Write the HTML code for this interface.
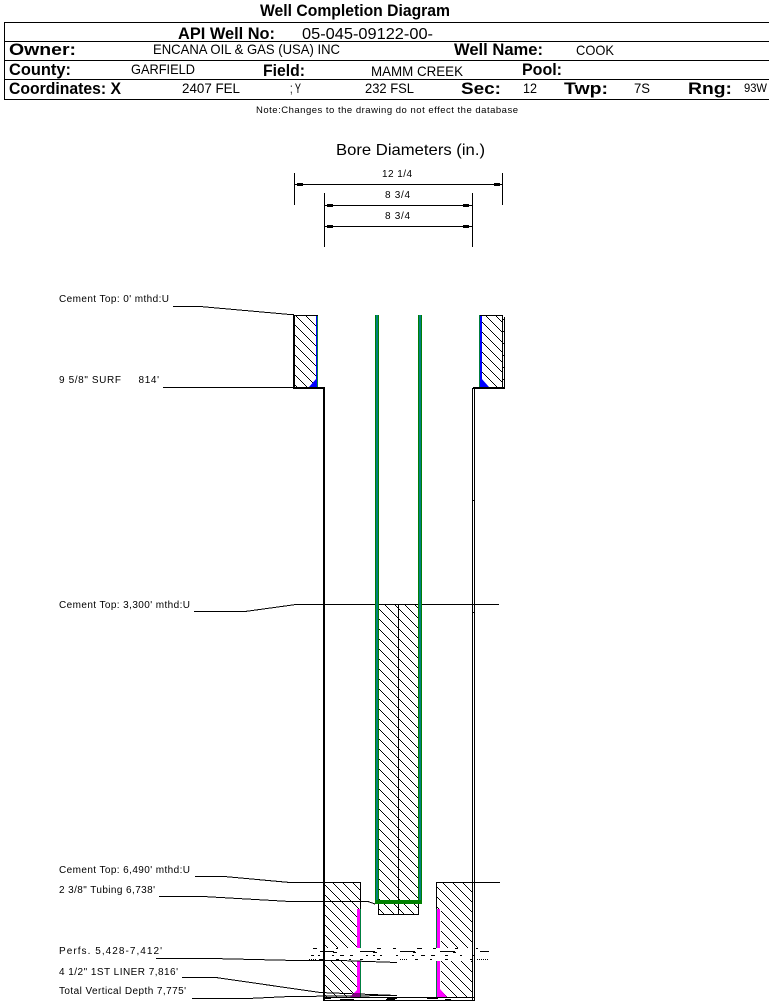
<!DOCTYPE html>
<html>
<head>
<meta charset="utf-8">
<style>
html,body{margin:0;padding:0;background:#fff}
svg{display:block}
text{font-family:"Liberation Sans",sans-serif;fill:#000}
.b{font-weight:bold}
</style>
</head>
<body>
<svg width="769" height="1001" viewBox="0 0 769 1001" xmlns="http://www.w3.org/2000/svg">
<defs>
<pattern id="h" width="10" height="10" patternUnits="userSpaceOnUse">
<path d="M0 0h1v1h-1zM1 1h1v1h-1zM2 2h1v1h-1zM3 3h1v1h-1zM4 4h1v1h-1zM5 5h1v1h-1zM6 6h1v1h-1zM7 7h1v1h-1zM8 8h1v1h-1zM9 9h1v1h-1z" fill="#000" shape-rendering="crispEdges"/>
</pattern>
</defs>

<!-- Header -->
<g fill="none" stroke="#000" stroke-width="1" shape-rendering="crispEdges">
<path d="M4.5 22.5H769M4.5 41.5H769M4.5 60.5H769M4.5 79.5H769M4.5 99.5H769M4.5 22V100"/>
</g>
<text class="b" x="260" y="16" font-size="17" textLength="190" lengthAdjust="spacingAndGlyphs">Well Completion Diagram</text>
<text class="b" x="178" y="39" font-size="17" textLength="97" lengthAdjust="spacingAndGlyphs">API Well No:</text>
<text x="302" y="39" font-size="16" textLength="131" lengthAdjust="spacingAndGlyphs">05-045-09122-00-</text>
<text class="b" x="9" y="55" font-size="17" textLength="67" lengthAdjust="spacingAndGlyphs">Owner:</text>
<text x="153" y="54" font-size="14" textLength="187" lengthAdjust="spacingAndGlyphs">ENCANA OIL &amp; GAS (USA) INC</text>
<text class="b" x="454" y="55" font-size="17" textLength="89" lengthAdjust="spacingAndGlyphs">Well Name:</text>
<text x="576" y="55" font-size="14" textLength="38" lengthAdjust="spacingAndGlyphs">COOK</text>
<text class="b" x="9" y="75" font-size="17" textLength="62" lengthAdjust="spacingAndGlyphs">County:</text>
<text x="131" y="74" font-size="14" textLength="64" lengthAdjust="spacingAndGlyphs">GARFIELD</text>
<text class="b" x="263" y="76" font-size="17" textLength="42" lengthAdjust="spacingAndGlyphs">Field:</text>
<text x="371" y="76" font-size="14" textLength="92" lengthAdjust="spacingAndGlyphs">MAMM CREEK</text>
<text class="b" x="522" y="75" font-size="17" textLength="40" lengthAdjust="spacingAndGlyphs">Pool:</text>
<text class="b" x="9" y="94" font-size="17" textLength="112" lengthAdjust="spacingAndGlyphs">Coordinates: X</text>
<text x="182" y="93" font-size="14" textLength="58" lengthAdjust="spacingAndGlyphs">2407 FEL</text>
<text x="290" y="93" font-size="14" textLength="11" lengthAdjust="spacingAndGlyphs">; Y</text>
<text x="365" y="93" font-size="14" textLength="49" lengthAdjust="spacingAndGlyphs">232 FSL</text>
<text class="b" x="461" y="94" font-size="17" textLength="40" lengthAdjust="spacingAndGlyphs">Sec:</text>
<text x="523" y="93" font-size="14" textLength="14" lengthAdjust="spacingAndGlyphs">12</text>
<text class="b" x="564" y="94" font-size="17" textLength="44" lengthAdjust="spacingAndGlyphs">Twp:</text>
<text x="634" y="93" font-size="14" textLength="16" lengthAdjust="spacingAndGlyphs">7S</text>
<text class="b" x="688" y="94" font-size="17" textLength="44" lengthAdjust="spacingAndGlyphs">Rng:</text>
<text x="744" y="92" font-size="12" textLength="23" lengthAdjust="spacingAndGlyphs">93W</text>
<text x="256" y="113" font-size="9.5" textLength="262" lengthAdjust="spacing">Note:Changes to the drawing do not effect the database</text>

<!-- Bore diameters -->
<text x="336" y="155" font-size="16" textLength="149" lengthAdjust="spacingAndGlyphs">Bore Diameters (in.)</text>
<g fill="none" stroke="#000" stroke-width="1" shape-rendering="crispEdges">
<path d="M294.5 173V205M502.5 173V205M324.5 193V247M472.5 193V247"/>
<path d="M295 184.5H502M325 205.5H472M325 226.5H472"/>
</g>
<g fill="#000" shape-rendering="crispEdges">
<rect x="297" y="183" width="6" height="3"/><rect x="494" y="183" width="6" height="3"/>
<rect x="327" y="204" width="6" height="3"/><rect x="463" y="204" width="6" height="3"/>
<rect x="327" y="225" width="6" height="3"/><rect x="463" y="225" width="6" height="3"/>
</g>
<text x="382" y="177" font-size="10" textLength="30" lengthAdjust="spacing">12 1/4</text>
<text x="385" y="198" font-size="10" textLength="25" lengthAdjust="spacing">8 3/4</text>
<text x="385" y="219" font-size="10" textLength="25" lengthAdjust="spacing">8 3/4</text>

<!-- Surface cement blocks -->
<g shape-rendering="crispEdges">
<rect x="295" y="316" width="21" height="71" fill="url(#h)"/>
<rect x="481" y="316" width="22" height="71" fill="url(#h)"/>
<rect x="316" y="315" width="1" height="73" fill="#0000ff"/>
<rect x="317" y="315" width="1" height="73" fill="#008040"/>
<rect x="480" y="315" width="2" height="73" fill="#0000ff"/>
<rect x="479" y="315" width="1" height="73" fill="#008040"/>
</g>
<path d="M309 387L316 379V387Z" fill="#0000ff"/>
<path d="M481 378L489 387H481Z" fill="#0000ff"/>
<g fill="#000" shape-rendering="crispEdges">
<rect x="293" y="315" width="2" height="74"/>
<rect x="294" y="315" width="24" height="1"/>
<rect x="480" y="315" width="23" height="1"/>
<rect x="502" y="315" width="1" height="74"/>
<rect x="504" y="317" width="1" height="72"/>
<rect x="503" y="319" width="2" height="1"/><rect x="503" y="331" width="2" height="1"/><rect x="503" y="343" width="2" height="1"/><rect x="503" y="355" width="2" height="1"/><rect x="503" y="367" width="2" height="1"/><rect x="503" y="379" width="2" height="1"/>
<rect x="293" y="387" width="31" height="2"/>
<rect x="473" y="387" width="32" height="2"/>
</g>

<!-- Lower cement and hatches -->
<g shape-rendering="crispEdges">
<rect x="379" y="605" width="39" height="309" fill="url(#h)"/>
<rect x="325" y="883" width="33" height="114" fill="url(#h)"/>
<rect x="325" y="883" width="35" height="26" fill="url(#h)"/>
<rect x="441" y="883" width="31" height="114" fill="url(#h)"/>
<rect x="437" y="883" width="35" height="26" fill="url(#h)"/>
</g>
<g fill="none" stroke="#000" shape-rendering="crispEdges">
<path d="M296 604.5H499"/>
<path d="M398.5 604V914"/>
<path d="M378.5 904V914.5H419M418.5 904V914"/>
<path d="M324 882.5H360.5V909M436.5 909V882.5H473M473 882.5H500"/>
</g>

<!-- Liner -->
<g shape-rendering="crispEdges">
<rect x="357" y="909" width="3" height="88" fill="#ff00ff"/>
<rect x="360" y="909" width="1" height="88" fill="#008040"/>
<rect x="437" y="909" width="3" height="88" fill="#ff00ff"/>
<rect x="436" y="909" width="1" height="88" fill="#008040"/>
</g>
<path d="M350 997L357 990V997Z" fill="#ff00ff"/>
<path d="M440 989L447 997H440Z" fill="#ff00ff"/>

<!-- Tubing -->
<g shape-rendering="crispEdges">
<rect x="375" y="315" width="4" height="589" fill="#008000"/>
<rect x="376" y="315" width="2" height="585" fill="#007f7f"/>
<rect x="418" y="315" width="4" height="589" fill="#008000"/>
<rect x="419" y="315" width="2" height="585" fill="#007f7f"/>
<rect x="375" y="900" width="47" height="4" fill="#008000"/>
</g>

<!-- Perforation band -->
<rect x="306" y="948" width="185" height="13" fill="#fff"/>
<g fill="none" stroke="#000" stroke-width="1" shape-rendering="crispEdges">
<path d="M313 948.5h4M336 948.5h2M377 948.5h4M393 948.5h3M417 948.5h5M433 948.5h3M455 948.5h3M476 948.5h2"/>
<path d="M320 951.5h14M360 951.5h15M400 951.5h15M440 951.5h15M480 951.5h9"/>
<path d="M333 952.5h4M373 952.5h4M413 952.5h3M453 952.5h3"/>
<path d="M311 955.5h3M318 955.5h2M332 955.5h2M340 955.5h4M350 955.5h3M366 955.5h2M373 955.5h2M380 955.5h2M396 955.5h2M412 955.5h2M421 955.5h4M431 955.5h4M445 955.5h3M460 955.5h2M472 955.5h2"/>
<path d="M309 959.5h8" stroke-dasharray="1 1"/>
<path d="M319 959.5h4M336 959.5h3M349 959.5h2M360 959.5h3M377 959.5h3M415 959.5h3M430 959.5h2M445 959.5h3M470 959.5h2"/>
<path d="M400 959.5h8M477 959.5h11" stroke-dasharray="1 1"/>
</g>

<!-- Casing walls -->
<g fill="#000" shape-rendering="crispEdges">
<rect x="323" y="387" width="2" height="614"/>
<rect x="472" y="388" width="1" height="613"/>
<rect x="474" y="388" width="1" height="613"/>
<rect x="473" y="388" width="2" height="1"/>
<rect x="473" y="500" width="1" height="1"/>
<rect x="473" y="604" width="1" height="1"/>
<rect x="473" y="612" width="1" height="1"/>
<rect x="323" y="997" width="152" height="1"/>
<rect x="323" y="1000" width="152" height="1"/>
</g>

<!-- Leaders -->
<g fill="none" stroke="#000" stroke-width="1" shape-rendering="crispEdges">
<path d="M173 306.5H200L290 314.5H294"/>
<path d="M163 387.5H294"/>
<path d="M194 611.5H245L296 604.5"/>
<path d="M195 876.5H224L290 882.5H324"/>
<path d="M159 896.5H203L290 901.5H368L375 904"/>
<path d="M156 958.5H212L296 960.5H340L397 962.5"/>
<path d="M182 977.5H216L320 992.5L397 995.5"/>
<path d="M192 998.5H248L290 996.5L397 995.5"/>
</g>

<!-- Bottom noise -->
<g fill="none" stroke="#000" stroke-width="1" shape-rendering="crispEdges">
<path d="M325 998.5h6M340 999.5h14M387 998.5h10M386 999.5h9M427 998.5h11M445 999.5h6"/>
</g>

<!-- Labels -->
<g font-size="10">
<text x="59" y="302" textLength="110" lengthAdjust="spacing">Cement Top: 0' mthd:U</text>
<text x="59" y="383" textLength="100" lengthAdjust="spacing" xml:space="preserve">9 5/8" SURF     814'</text>
<text x="59" y="608" textLength="131" lengthAdjust="spacing">Cement Top: 3,300' mthd:U</text>
<text x="59" y="873" textLength="131" lengthAdjust="spacing">Cement Top: 6,490' mthd:U</text>
<text x="59" y="893" textLength="96" lengthAdjust="spacing">2 3/8" Tubing 6,738'</text>
<text x="59" y="954" textLength="103" lengthAdjust="spacing">Perfs. 5,428-7,412'</text>
<text x="59" y="975" textLength="119" lengthAdjust="spacing">4 1/2" 1ST LINER  7,816'</text>
<text x="59" y="994" textLength="127" lengthAdjust="spacing">Total Vertical Depth 7,775'</text>
</g>
</svg>
</body>
</html>
